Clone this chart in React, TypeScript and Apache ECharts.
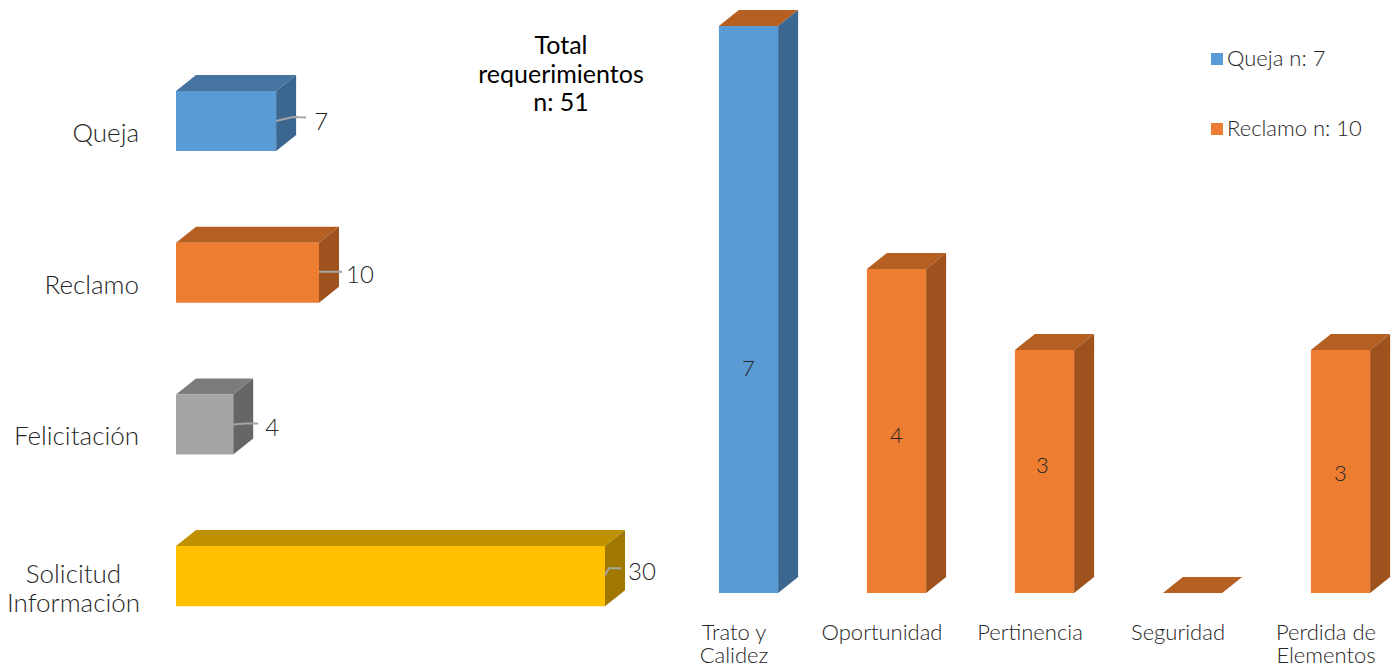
import React, { useEffect, useRef } from "react";
import * as echarts from "echarts";

const typeCategories = ["Queja", "Reclamo", "Felicitación", "Solicitud\nInformación"];
const typeValues = [7, 10, 4, 30];
const detailCategories = ["Trato y\nCalidez", "Oportunidad", "Pertinencia", "Seguridad", "Perdida de\nElementos"];
const quejaValues = [7, null, null, null, null];
const reclamoValues = [null, 4, 3, 0, 3];
const totalLines = ["Total", "requerimientos", "n: 51"];
const quejaLegend = "Queja n: 7";
const reclamoLegend = "Reclamo n: 10";

const FONT = "Lato";
const INK = "#262626";
const DX = 20;
const DY = -16;

const palette = {
  blue: { front: "#5B9BD5", top: "#44749F", side: "#3A6690" },
  blueDetail: { front: "#5B9BD5", top: "#B55F22", side: "#3A6690" },
  orange: { front: "#ED7D31", top: "#B55F22", side: "#9E521E" },
  gray: { front: "#A5A5A5", top: "#7C7C7C", side: "#666666" },
  gold: { front: "#FFC000", top: "#BF9000", side: "#A07800" },
};
const typeStyles = [palette.blue, palette.orange, palette.gray, palette.gold];

// leader line bends and label anchor, relative to the bar's end and middle
const leaderShapes = [
  { pts: [[0, 0], [17, -4], [30, -3.5]], label: [45, -1] },
  { pts: [[0, -1], [12, -1], [23, -1]], label: [41, 1] },
  { pts: [[0, 0], [12, -1], [25, -1]], label: [39, 2] },
  { pts: [[0, -1], [4, -8], [16, -8]], label: [37, -6] },
];
// the reference places each inner label by hand
const innerLabelDy = [58, 3, -7, 0, 1];
const innerLabelDx = [0, 0, -2, 0, 0];

function box(x: number, y: number, w: number, h: number, c: { front: string; top: string; side: string }) {
  const children: any[] = [];
  children.push({
    type: "polygon",
    shape: { points: [[x, y], [x + DX, y + DY], [x + w + DX, y + DY], [x + w, y]] },
    style: { fill: c.top },
  });
  if (h > 0) {
    children.push({
      type: "polygon",
      shape: { points: [[x + w, y], [x + w + DX, y + DY], [x + w + DX, y + h + DY], [x + w, y + h]] },
      style: { fill: c.side },
    });
    children.push({ type: "rect", shape: { x, y, width: w, height: h }, style: { fill: c.front } });
  }
  return children;
}

const renderType = (params: any, api: any) => {
  const i = params.dataIndex;
  const end = api.coord([api.value(0), api.value(1)]);
  const base = api.coord([0, api.value(1)]);
  const h = api.size([0, 1])[1] * 0.396;
  const midY = end[1] - 11;
  const y = midY - h / 2;
  const children = box(base[0], y, end[0] - base[0], h, typeStyles[i]);
  const s = leaderShapes[i];
  children.push({
    type: "polyline",
    shape: { points: s.pts.map((p) => [end[0] + p[0], midY + p[1]]) },
    style: { fill: "none", stroke: "#A5A5A5", lineWidth: 2 },
  });
  children.push({
    type: "text",
    style: {
      text: String(typeValues[i]),
      x: end[0] + s.label[0],
      y: midY + s.label[1],
      align: "center",
      verticalAlign: "middle",
      fill: INK,
      font: `300 24px ${FONT}`,
    },
  });
  return { type: "group", children };
};

const makeDetailRender = (c: { front: string; top: string; side: string }) => (params: any, api: any) => {
  const top = api.coord([api.value(0), api.value(1)]);
  const bottom = api.coord([api.value(0), 0]);
  const w = api.size([1, 0])[0] * 0.4;
  const x = top[0] + 14.5 - w / 2;
  const h = bottom[1] - top[1];
  const children = box(x, top[1], w, h, c);
  const idx = api.value(0);
  if (api.value(1) > 0) {
    children.push({
      type: "text",
      style: {
        text: String(api.value(1)),
        x: x + w / 2 + innerLabelDx[idx],
        y: top[1] + h / 2 + innerLabelDy[idx],
        align: "center",
        verticalAlign: "middle",
        fill: INK,
        font: `300 22px ${FONT}`,
      },
    });
  }
  return { type: "group", children };
};

const toRows = (vals: (number | null)[]) =>
  vals.map((v, i) => (v === null ? null : [i, v])).filter(Boolean);

export default function App() {
  const ref = useRef<HTMLDivElement>(null);
  useEffect(() => {
    const chart = echarts.init(ref.current!, undefined, { renderer: "svg" });
    const axisText = { color: INK, fontFamily: FONT, fontWeight: 300, fontSize: 26 };
    chart.setOption({
      animation: false,
      backgroundColor: "#ffffff",
      grid: [
        { left: 176, top: 56.2, width: 429, height: 606.8, outerBoundsMode: "none" },
        { left: 660, top: 26, width: 740, height: 567, outerBoundsMode: "none" },
      ],
      xAxis: [
        { type: "value", gridIndex: 0, min: 0, max: 30, show: false },
        {
          type: "category",
          gridIndex: 1,
          data: detailCategories,
          axisLine: { show: false },
          axisTick: { show: false },
          axisLabel: {
            ...axisText,
            fontSize: 22,
            lineHeight: 23,
            margin: 27,
            verticalAlign: "top",
            interval: 0,
          },
        },
      ],
      yAxis: [
        {
          type: "category",
          gridIndex: 0,
          inverse: true,
          data: typeCategories,
          axisLine: { show: false },
          axisTick: { show: false },
          axisLabel: {
            ...axisText,
            margin: 37,
            lineHeight: 29,
            align: "right",
            formatter: (v: string) =>
              v.includes("\n") ? v.split("\n").map((l) => `{l|${l}}`).join("\n") : v,
            rich: { l: { ...axisText, lineHeight: 29, width: 131, align: "center" } },
          },
        },
        { type: "value", gridIndex: 1, min: 0, max: 7, show: false },
      ],
      legend: {
        orient: "vertical",
        left: 1211,
        top: 46,
        padding: 0,
        icon: "rect",
        itemWidth: 12,
        itemHeight: 12,
        itemGap: 44,
        data: [quejaLegend, reclamoLegend],
        formatter: (name: string) => `{t|${name}}`,
        textStyle: {
          ...axisText,
          fontSize: 22,
          rich: { t: { ...axisText, fontSize: 22, lineHeight: 24, padding: [0, 0, 4, -1] } },
        },
      },
      graphic: [
        {
          type: "text",
          x: 561,
          y: 30,
          style: {
            text: totalLines.join("\n"),
            align: "center",
            fill: "#000000",
            font: `400 25px ${FONT}`,
            lineHeight: 28.5,
          },
        },
      ],
      series: [
        {
          type: "custom",
          name: "Tipo",
          xAxisIndex: 0,
          yAxisIndex: 0,
          renderItem: renderType,
          data: typeValues.map((v, i) => [v, i]),
        },
        {
          type: "custom",
          name: quejaLegend,
          xAxisIndex: 1,
          yAxisIndex: 1,
          itemStyle: { color: palette.blue.front },
          renderItem: makeDetailRender(palette.blueDetail),
          data: toRows(quejaValues),
        },
        {
          type: "custom",
          name: reclamoLegend,
          xAxisIndex: 1,
          yAxisIndex: 1,
          itemStyle: { color: palette.orange.front },
          renderItem: makeDetailRender(palette.orange),
          data: toRows(reclamoValues),
        },
      ],
    });
    return () => chart.dispose();
  }, []);
  return <div ref={ref} style={{ position: "fixed", left: 0, top: 0, width: 1394, height: 666 }} />;
}
